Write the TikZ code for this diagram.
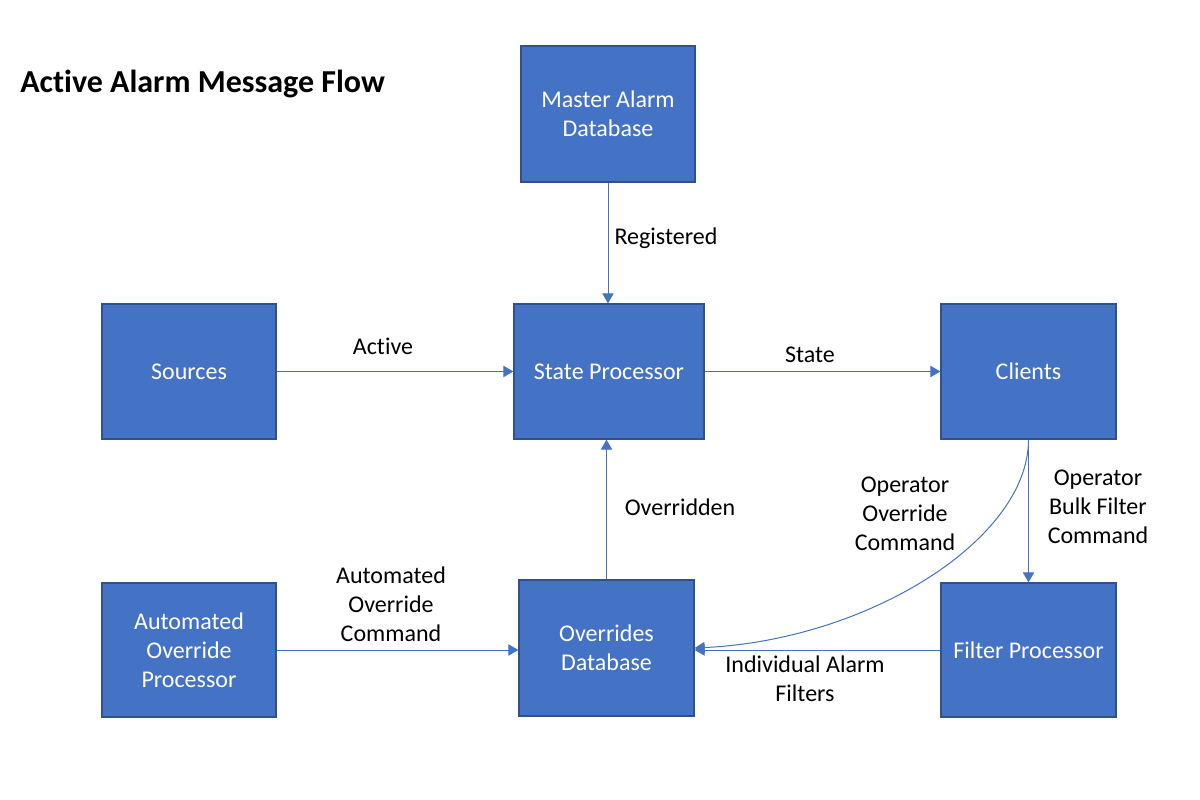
\documentclass[tikz,border=0pt]{standalone}
\usepackage{fontspec}
\setmainfont[Ligatures=NoCommon]{Carlito}
\usetikzlibrary{arrows.meta}
\definecolor{boxfill}{HTML}{4472C4}
\definecolor{boxline}{HTML}{2F528F}
\definecolor{arrcol}{HTML}{4472C4}
\begin{document}
\begin{tikzpicture}[x=0.75pt,y=-0.75pt,
  box/.style={draw=boxline, fill=boxfill, line width=1pt, text=white, align=center,
    font=\fontsize{18}{21.75}\selectfont, inner sep=0pt},
  arr/.style={draw=arrcol, line width=0.75pt, -{Triangle[length=7.5pt,width=8.5pt]}},
  lbl/.style={align=center, font=\fontsize{18}{21.75}\selectfont, inner sep=0pt}]
\useasboundingbox (0,0) rectangle (1200,800);
\fill[white] (0,0) rectangle (1200,800);
\node[anchor=west, font=\bfseries\fontsize{24}{28}\selectfont, inner sep=0pt] (title) at (20,84) {Act\kern0pt ive Alarm Message Flow};

\node[box, minimum width=130.5pt, minimum height=102pt] (master) at (608,114) {Master Alarm\\Database};
\node[box, minimum width=130.5pt, minimum height=101.25pt] (sources) at (189,371.5) {Sources};
\node[box, minimum width=142.5pt, minimum height=101.25pt] (state) at (609,371.5) {State Processor};
\node[box, minimum width=131.25pt, minimum height=101.25pt] (clients) at (1028.5,371.5) {Clients};
\node[box, minimum width=130.5pt, minimum height=100.5pt] (auto) at (189,650) {Automated\\Override\\Processor};
\node[box, minimum width=131.25pt, minimum height=102pt] (overrides) at (606.5,648) {Overrides\\Database};
\node[box, minimum width=131.25pt, minimum height=100.5pt] (filter) at (1028.5,650) {Filter Processor};

\draw[arr] (master.south) -- (master.south |- state.north);
\draw[arr] (sources.east) -- (state.west);
\draw[arr] (state.east) -- (clients.west);
\draw[arr] (overrides.north) -- (overrides.north |- state.south);
\draw[arr] (auto.east) -- (auto.east -| overrides.west);
\draw[arr] (filter.west) -- (filter.west -| overrides.east);
\draw[arr] (clients.south) -- (filter.north);
\draw[arr] (clients.south) .. controls +(0,100) and +(173,-8) .. (overrides.east);

\node[lbl] (lreg) at (666,238) {Registered};
\node[lbl] (lact) at (383,346) {Act\kern0pt ive};
\node[lbl] (lstate) at (810,355) {State};
\node[lbl] (lover) at (680,507) {Overridden};
\node[lbl] (lopo) at (905,514) {Operator\\Override\\Command};
\node[lbl] (lopb) at (1098,507) {Operator\\Bulk Filter\\Command};
\node[lbl] (laoc) at (391,604) {Automated\\Override\\Command};
\node[lbl] (liaf) at (805,679) {Individual Alarm\\Filters};
\end{tikzpicture}
\end{document}
